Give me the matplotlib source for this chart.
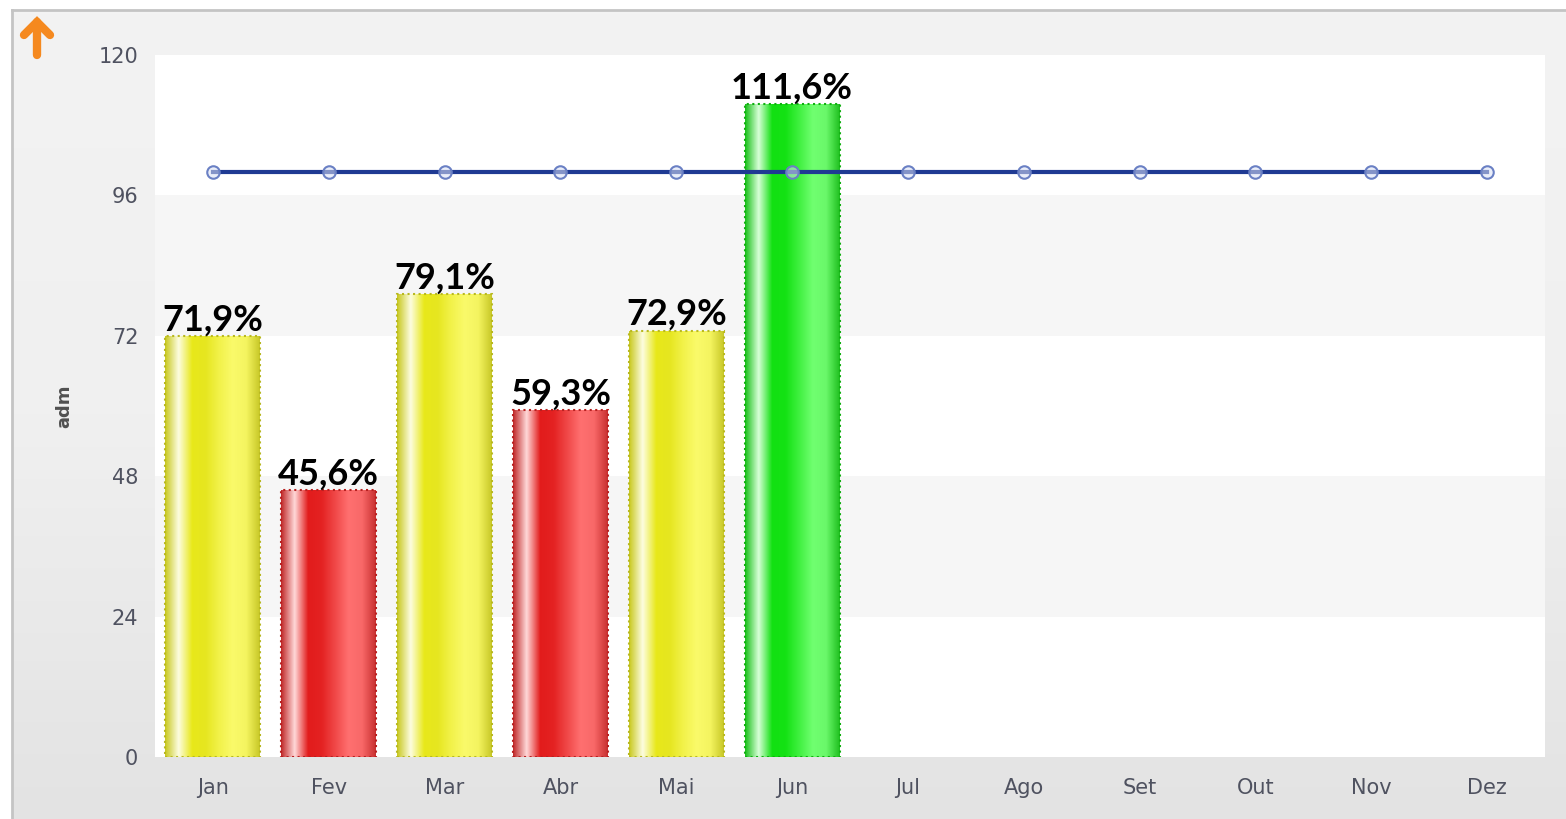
import numpy as np
import matplotlib.pyplot as plt
from matplotlib.colors import LinearSegmentedColormap
from matplotlib.lines import Line2D

months = ['Jan', 'Fev', 'Mar', 'Abr', 'Mai', 'Jun', 'Jul', 'Ago', 'Set', 'Out', 'Nov', 'Dez']
realizado = [71.9, 45.6, 79.1, 59.3, 72.9, 111.6]
labels = ['71,9%', '45,6%', '79,1%', '59,3%', '72,9%', '111,6%']
status = ['yellow', 'red', 'yellow', 'red', 'yellow', 'green']
meta = [100] * 12

# gradient stops per status: edge, highlight, main ... light, edge
grad = {
    'yellow': ['#c8c81e', '#fdfde0', '#e8e81a', '#e6e620', '#f2f24a', '#fafa6a', '#f4f460', '#c8c828'],
    'red':    ['#c02828', '#ffd8d8', '#e21c1c', '#e42222', '#f04848', '#ff7070', '#f86868', '#c83030'],
    'green':  ['#18c018', '#d8ffd8', '#12e012', '#14e214', '#40f040', '#70ff70', '#6af86a', '#20c020'],
}
edge = {'yellow': '#b8b820', 'red': '#b82020', 'green': '#10b010'}

fig = plt.figure(figsize=(15.66, 8.19), dpi=100)

# background panel
bg = fig.add_axes([0, 0, 1, 1], zorder=-5)
bg.set_xlim(0, 1566)
bg.set_ylim(819, 0)
bg.axis('off')
g = np.linspace(0, 1, 200).reshape(-1, 1)
bgcmap = LinearSegmentedColormap.from_list('bg', ['#f3f3f3', '#f0f0f0', '#e3e3e3'])
bg.imshow(g, cmap=bgcmap, extent=[12, 1566, 819, 10], aspect='auto')
bg.add_line(Line2D([12, 12], [10, 819], color='#c4c4c4', lw=2))
bg.add_line(Line2D([12, 1566], [10, 10], color='#c4c4c4', lw=2))
# orange "up" arrow icon
bg.add_line(Line2D([37, 37], [55, 22], color='#f5891f', lw=6, solid_capstyle='round'))
bg.add_line(Line2D([24, 37, 50], [35, 22, 35], color='#f5891f', lw=6,
                   solid_capstyle='round', solid_joinstyle='miter'))

ax = fig.add_axes([155 / 1566, 1 - 757 / 819, 1390 / 1566, 702 / 819])
ax.set_facecolor('white')
ax.set_xlim(-0.5, 11.5)
ax.set_ylim(0, 120)
for lo in (24, 72):
    ax.axhspan(lo, lo + 24, color='#f6f6f6', zorder=0, lw=0)

x = np.arange(len(months))
w = 0.82
bars = ax.bar(x[:len(realizado)], realizado, width=w, color='none', edgecolor='none', zorder=2)
for b, s in zip(bars, status):
    cmap = LinearSegmentedColormap.from_list(s, grad[s])
    im = ax.imshow(np.linspace(0, 1, 256).reshape(1, -1), cmap=cmap, aspect='auto',
                   extent=[b.get_x(), b.get_x() + b.get_width(), 0, b.get_height()],
                   zorder=2, interpolation='bilinear')
    im.set_clip_path(b)
    ax.bar(b.get_x() + b.get_width() / 2, b.get_height(), width=w, color='none',
           edgecolor=edge[s], linestyle=':', lw=1.5, zorder=3)

ax.plot(x, meta, color='#1f3a93', lw=3, zorder=4,
        marker='o', markersize=9, markerfacecolor=(0.85, 0.88, 0.96, 0.55),
        markeredgecolor='#6a80c4', markeredgewidth=1.5)

for xi, v, t in zip(x, realizado, labels):
    ax.annotate(t, (xi, v), xytext=(0, 4), textcoords='offset points',
                ha='center', va='baseline', fontsize=26, fontweight='bold',
                family='Lato', color='black', zorder=5)

ax.set_xticks(x)
ax.set_xticklabels(months)
ax.set_yticks(np.arange(0, 121, 24))
ax.tick_params(length=0, labelsize=15, labelcolor='#4f5260')
ax.tick_params(axis='x', pad=15)
ax.tick_params(axis='y', pad=12)
for sp in ax.spines.values():
    sp.set_visible(False)
ax.set_ylabel('adm', fontsize=13, fontweight='bold', color='#505050')
ax.yaxis.set_label_coords(-0.059, 0.5)

fig.savefig('out.png', dpi=100)
